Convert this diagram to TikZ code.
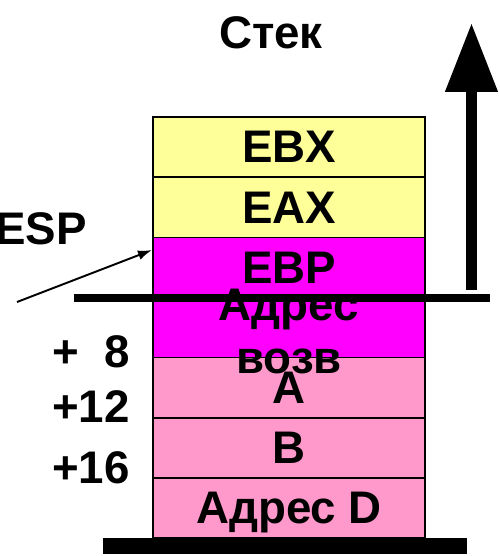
\documentclass[tikz,border=0pt]{standalone}
\usepackage{fontspec}
\setmainfont{Liberation Sans}
\usetikzlibrary{arrows.meta}
\definecolor{regyellow}{RGB}{255,255,153}
\definecolor{framemag}{RGB}{255,0,255}
\definecolor{argpink}{RGB}{255,153,204}

\begin{document}
\begin{tikzpicture}[x=0.02cm, y=-0.02cm, font=\fontsize{26}{31}\selectfont\bfseries,
  cell/.style={draw, line width=0.8pt, minimum width=5.44cm, minimum height=1.203cm, inner sep=0pt, text depth=0pt}]
\useasboundingbox (0,0) rectangle (500,556);
\def \cx {289}
\node[cell, fill=regyellow] at (\cx,147.1) (ebx) {EBX};
\node[cell, fill=regyellow] at (\cx,207.3) (eax) {EAX};
\node[cell, fill=framemag] at (\cx,267.4) (ebp) {EBP};
\node[cell, fill=framemag] at (\cx,327.6) (ret) {};
\node[cell, fill=argpink] at (\cx,387.8) (arga) {A};
\node[cell, fill=argpink] at (\cx,448) (argb) {B};
\node[cell, fill=argpink] at (\cx,508.1) (argd) {Адрес D};
\node[anchor=base] at (\cx,320) (ret1) {Адрес};
\node[anchor=base] at (\cx,373) (ret2) {возв};
\node at (271,33) (title) {Стек};
\node[anchor=east, inner sep=0pt] at (87,229) (esp) {ESP};
\node[anchor=east, inner sep=0pt] at (130,352) (off8) {+\phantom{1}8};
\node[anchor=east, inner sep=0pt] at (130,407) (off12) {+12};
\node[anchor=east, inner sep=0pt] at (130,468) (off16) {+16};
\coordinate (sp0) at (74,298);
\coordinate (sp1) at (490,298);
\coordinate (esptail) at (17,302);
\coordinate (esphead) at (152,250);
\coordinate (growlow) at (471.5,290);
\coordinate (growtop) at (471.5,23);
\draw[line width=0.17cm] (sp0) -- (sp1);
\fill (103,538) rectangle (467,554);
\path[-{Latex[length=8pt,width=5.5pt]}, line width=1.1pt] (esptail) edge (esphead);
\path[-{Triangle[length=1.38cm,width=1cm]}, line width=0.22cm] (growlow) edge (growtop);
\end{tikzpicture}
\end{document}
